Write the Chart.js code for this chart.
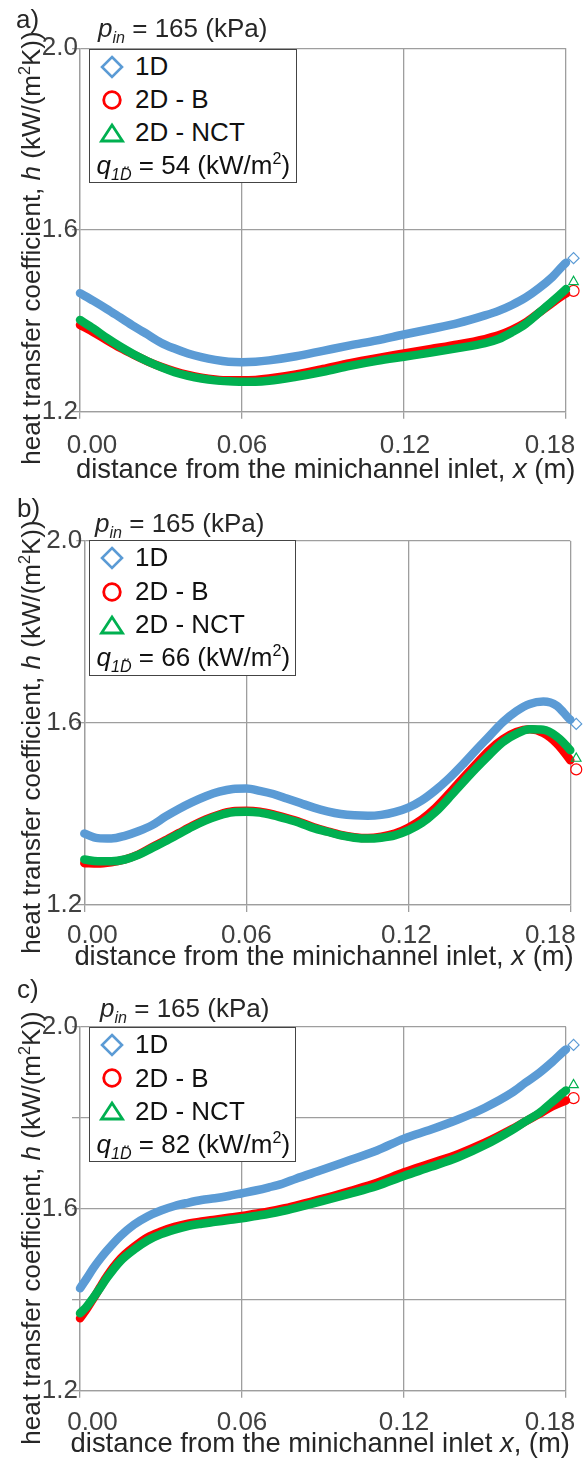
<!DOCTYPE html>
<html>
<head>
<meta charset="utf-8">
<script src="https://cdn.jsdelivr.net/npm/chart.js@4.4.1/dist/chart.umd.min.js"></script>
<style>
html,body{margin:0;padding:0;background:#fff;}
body{width:587px;height:1463px;position:relative;overflow:hidden;font-family:"Liberation Sans",Arial,sans-serif;color:#262626;}
canvas{position:absolute;left:0;}
.t{position:absolute;white-space:nowrap;}
sub,sup{line-height:0;font-size:62%;}
.lg{position:absolute;box-sizing:border-box;border:1.5px solid #444;background:#fff;}
.lg .t{color:#111;}
.yt{position:absolute;white-space:nowrap;transform:translate(-50%,-50%) rotate(-90deg);font-size:26px;line-height:26px;}
svg{position:absolute;overflow:visible;}
</style>
</head>
<body>
<canvas id="ca" width="587" height="487" style="top:0px"></canvas>
<canvas id="cb" width="587" height="488" style="top:487px"></canvas>
<canvas id="cc" width="587" height="488" style="top:975px"></canvas>
<script>
// ---------- data ----------
const X_MIN = 0, X_MAX = 0.18, Y_MIN = 1.2, Y_MAX = 2.0;
const X_TICKS = [0, 0.06, 0.12, 0.18];
const X_TICK_LABELS = ['0.00', '0.06', '0.12', '0.18'];
const Y_LABEL_TICKS = [1.2, 1.6, 2.0];
const Y_GRID_AB = [1.2, 1.6, 2.0];
const Y_GRID_C = [1.2, 1.4, 1.6, 1.8, 2.0];
const SERIES_NAMES = ['1D', '2D - B', '2D - NCT'];
const P_IN = 165;
const Q_1D = [54, 66, 82];

// panel a
const X_A = [0, 0.005, 0.01, 0.015, 0.02, 0.025, 0.03, 0.035, 0.04, 0.045, 0.05, 0.055, 0.06, 0.065, 0.07, 0.08, 0.09, 0.10, 0.11, 0.12, 0.13, 0.14, 0.15, 0.155, 0.16, 0.165, 0.17, 0.175, 0.18, 0.1828];
const H_1D_A = [1.461, 1.444, 1.426, 1.407, 1.388, 1.370, 1.352, 1.339, 1.328, 1.320, 1.314, 1.310, 1.309, 1.310, 1.313, 1.322, 1.334, 1.346, 1.357, 1.370, 1.382, 1.395, 1.412, 1.422, 1.435, 1.451, 1.472, 1.497, 1.528, 1.538];
const H_2DB_A = [1.391, 1.375, 1.357, 1.340, 1.325, 1.311, 1.299, 1.289, 1.281, 1.275, 1.271, 1.269, 1.269, 1.270, 1.273, 1.282, 1.294, 1.307, 1.318, 1.328, 1.338, 1.348, 1.360, 1.368, 1.380, 1.396, 1.418, 1.440, 1.460, 1.466];
const H_2DNCT_A = [1.402, 1.383, 1.362, 1.343, 1.326, 1.311, 1.298, 1.287, 1.279, 1.273, 1.269, 1.267, 1.266, 1.266, 1.268, 1.277, 1.288, 1.301, 1.312, 1.321, 1.330, 1.340, 1.351, 1.360, 1.375, 1.393, 1.418, 1.443, 1.470, 1.486];

// panel b
const X_B = [0, 0.005, 0.01, 0.015, 0.02, 0.025, 0.03, 0.035, 0.04, 0.045, 0.05, 0.055, 0.06, 0.065, 0.07, 0.075, 0.08, 0.085, 0.09, 0.095, 0.10, 0.105, 0.11, 0.115, 0.12, 0.125, 0.13, 0.135, 0.14, 0.145, 0.15, 0.155, 0.16, 0.165, 0.17, 0.175, 0.18, 0.1822];
const H_1D_B = [1.357, 1.347, 1.346, 1.352, 1.362, 1.375, 1.394, 1.411, 1.426, 1.439, 1.449, 1.455, 1.456, 1.451, 1.444, 1.434, 1.424, 1.414, 1.406, 1.400, 1.397, 1.396, 1.398, 1.404, 1.414, 1.430, 1.452, 1.478, 1.508, 1.540, 1.571, 1.602, 1.626, 1.642, 1.647, 1.638, 1.607, 1.598];
const H_2DB_B = [1.292, 1.291, 1.294, 1.300, 1.311, 1.327, 1.342, 1.358, 1.374, 1.388, 1.399, 1.406, 1.407, 1.405, 1.399, 1.391, 1.382, 1.371, 1.362, 1.354, 1.349, 1.347, 1.350, 1.357, 1.370, 1.388, 1.413, 1.444, 1.477, 1.509, 1.540, 1.564, 1.580, 1.586, 1.578, 1.555, 1.518, 1.498];
const H_2DNCT_B = [1.300, 1.296, 1.296, 1.300, 1.310, 1.325, 1.340, 1.356, 1.372, 1.386, 1.397, 1.404, 1.405, 1.403, 1.397, 1.389, 1.380, 1.369, 1.361, 1.353, 1.348, 1.346, 1.348, 1.353, 1.364, 1.380, 1.404, 1.435, 1.468, 1.500, 1.530, 1.558, 1.576, 1.586, 1.585, 1.570, 1.540, 1.522];

// panel c
const X_C = [0, 0.0025, 0.005, 0.0075, 0.01, 0.015, 0.02, 0.025, 0.03, 0.035, 0.04, 0.045, 0.05, 0.055, 0.06, 0.065, 0.07, 0.075, 0.08, 0.09, 0.10, 0.11, 0.12, 0.13, 0.14, 0.15, 0.16, 0.165, 0.17, 0.175, 0.18, 0.1828];
const H_1D_C = [1.425, 1.447, 1.470, 1.490, 1.508, 1.540, 1.565, 1.583, 1.596, 1.606, 1.613, 1.619, 1.623, 1.628, 1.634, 1.640, 1.647, 1.655, 1.666, 1.686, 1.707, 1.728, 1.754, 1.774, 1.796, 1.822, 1.855, 1.877, 1.898, 1.923, 1.950, 1.960];
const H_2DB_C = [1.359, 1.380, 1.403, 1.428, 1.452, 1.490, 1.516, 1.537, 1.550, 1.560, 1.567, 1.572, 1.576, 1.580, 1.584, 1.589, 1.594, 1.600, 1.607, 1.622, 1.639, 1.657, 1.680, 1.700, 1.720, 1.745, 1.775, 1.792, 1.808, 1.825, 1.838, 1.843];
const H_2DNCT_C = [1.370, 1.385, 1.405, 1.426, 1.448, 1.485, 1.510, 1.530, 1.544, 1.554, 1.562, 1.567, 1.571, 1.575, 1.579, 1.584, 1.589, 1.595, 1.602, 1.617, 1.633, 1.650, 1.672, 1.692, 1.713, 1.740, 1.773, 1.792, 1.810, 1.835, 1.860, 1.872];

// ---------- styling / layout ----------
const C_1D = '#5B9BD5', C_B = '#FF0000', C_NCT = '#00B050';
const GRID = '#9E9E9E';
const FONT = '"Liberation Sans", Arial, sans-serif';

const PANELS = [
  {canvas:'ca', letter:'a)', xs:X_A, d1:H_1D_A, b:H_2DB_A, nct:H_2DNCT_A, grid:Y_GRID_AB,
   yw:80, pad:{top:48.3,left:0,right:21,bottom:75.3}, nudge:[12,0,1,-16], base:41.6,
   lab:[16,28], pin:[98,36.7], box:[89,48.5,208,134.5], xt:[76,478.3], yt:[31,247.5],
   xtitle:'distance from the minichannel inlet, <i>x</i> (m)'},
  {canvas:'cb', letter:'b)', xs:X_B, d1:H_1D_B, b:H_2DB_B, nct:H_2DNCT_B, grid:Y_GRID_AB,
   yw:84.3, pad:{top:54,left:0,right:16.7,bottom:70}, nudge:[8,0,-2,-20], base:38.3,
   lab:[17,516.7], pin:[95,531.7], box:[89,540,207,136], xt:[74.4,965], yt:[31,737],
   xtitle:'distance from the minichannel inlet, <i>x</i> (m)'},
  {canvas:'cc', letter:'c)', xs:X_C, d1:H_1D_C, b:H_2DB_C, nct:H_2DNCT_C, grid:Y_GRID_C,
   yw:80, pad:{top:51.7,left:0,right:21,bottom:72.3}, nudge:[12.5,0,0,-16], base:39.3,
   lab:[17,998], pin:[100,1016.7], box:[89,1026.7,207,135], xt:[70.6,1451.7], yt:[31,1228],
   xtitle:'distance from the minichannel inlet <i>x</i>, (m)'}
];

const xLabelsPlugin = {
  id: 'xLabels',
  afterDraw(chart, args, opts) {
    const {ctx, chartArea} = chart;
    const sx = chart.scales.x;
    ctx.save();
    ctx.font = '26px ' + FONT;
    ctx.fillStyle = '#404040';
    ctx.textAlign = 'center';
    ctx.textBaseline = 'alphabetic';
    X_TICKS.forEach((v, i) => {
      ctx.fillText(X_TICK_LABELS[i], sx.getPixelForValue(v) + opts.nudge[i], chartArea.bottom + opts.base);
    });
    ctx.restore();
  }
};

// lets the end-of-series markers that sit just past x = 0.18 be drawn
const markerRoom = {
  id: 'markerRoom',
  beforeDatasetsDraw(chart) { const a = chart.chartArea; a._r = a.right; a.right += 20; },
  afterDatasetsDraw(chart) { const a = chart.chartArea; a.right = a._r; }
};

function dataset(label, xs, ys, color, style, order) {
  const n = xs.length;
  return {
    label,
    data: xs.map((x, i) => ({x, y: ys[i]})),
    borderColor: color,
    borderWidth: 8.5,
    borderCapStyle: 'round',
    borderJoinStyle: 'round',
    cubicInterpolationMode: 'monotone',
    fill: false,
    pointStyle: style,
    pointRadius: c => (c.dataIndex === n - 1 ? 5.5 : 0),
    pointBorderWidth: 1.2,
    pointBorderColor: color,
    pointBackgroundColor: 'rgba(0,0,0,0)',
    segment: { borderColor: c => (c.p1DataIndex === n - 1 ? 'rgba(0,0,0,0)' : color) },
    clip: false,
    order
  };
}

function addText(parent, html, x, baseline, size) {
  const d = document.createElement('div');
  d.className = 't';
  d.style.fontSize = size + 'px';
  d.style.lineHeight = size + 'px';
  d.style.left = x + 'px';
  d.style.top = (baseline - 0.8465 * size) + 'px';
  d.innerHTML = html;
  parent.appendChild(d);
  return d;
}

const MARKERS = [
  '<polygon points="11,1 21,11 11,21 1,11" fill="none" stroke="' + C_1D + '" stroke-width="2.6"/>',
  '<circle cx="11" cy="11" r="8.3" fill="none" stroke="' + C_B + '" stroke-width="2.8"/>',
  '<polygon points="11,3 21.5,19 0.5,19" fill="none" stroke="' + C_NCT + '" stroke-width="2.8"/>'
];

PANELS.forEach((p, k) => {
  new Chart(document.getElementById(p.canvas), {
    type: 'line',
    data: {
      datasets: [
        dataset(SERIES_NAMES[0], p.xs, p.d1, C_1D, 'rectRot', 1),
        dataset(SERIES_NAMES[2], p.xs, p.nct, C_NCT, 'triangle', 2),
        dataset(SERIES_NAMES[1], p.xs, p.b, C_B, 'circle', 3)
      ]
    },
    options: {
      responsive: false,
      animation: false,
      events: [],
      devicePixelRatio: 1,
      layout: { padding: p.pad },
      plugins: {
        legend: { display: false },
        tooltip: { enabled: false },
        xLabels: { nudge: p.nudge, base: p.base }
      },
      scales: {
        x: {
          type: 'linear',
          bounds: 'data',
          afterDataLimits: s => { s.min = X_MIN; s.max = X_MAX; },
          afterBuildTicks: s => { s.ticks = X_TICKS.map(v => ({value: v})); },
          afterFit: s => { s.height = 0; },
          ticks: { display: false },
          grid: { color: GRID, lineWidth: 1.3, tickLength: 7, drawTicks: true },
          border: { color: GRID, width: 1.3 }
        },
        y: {
          type: 'linear',
          min: Y_MIN, max: Y_MAX,
          afterBuildTicks: s => { s.ticks = p.grid.map(v => ({value: v})); },
          afterFit: s => { s.width = p.yw; },
          ticks: {
            autoSkip: false,
            padding: -6,
            color: '#404040',
            font: { family: FONT, size: 26 },
            callback: v => (Y_LABEL_TICKS.some(l => Math.abs(l - v) < 1e-9) ? v.toFixed(1) : '')
          },
          grid: { color: GRID, lineWidth: 1.3, tickLength: 8, drawTicks: true },
          border: { color: GRID, width: 1.3 }
        }
      }
    },
    plugins: [xLabelsPlugin, markerRoom]
  });

  const body = document.body;
  addText(body, p.letter, p.lab[0], p.lab[1], 26);
  addText(body, '<i>p</i><sub><i>in</i></sub> = ' + P_IN + ' (kPa)', p.pin[0], p.pin[1], 26);
  addText(body, p.xtitle, p.xt[0], p.xt[1], 27.4);

  const yt = document.createElement('div');
  yt.className = 'yt';
  yt.style.left = p.yt[0] + 'px';
  yt.style.top = p.yt[1] + 'px';
  yt.innerHTML = 'heat transfer coefficient, <i>h</i> (kW/(m<sup>2</sup>K))';
  body.appendChild(yt);

  const box = document.createElement('div');
  box.className = 'lg';
  box.style.left = p.box[0] + 'px';
  box.style.top = p.box[1] + 'px';
  box.style.width = p.box[2] + 'px';
  box.style.height = p.box[3] + 'px';
  body.appendChild(box);
  const bases = [25.5, 59, 92, 125];
  SERIES_NAMES.forEach((name, i) => {
    const svg = document.createElementNS('http://www.w3.org/2000/svg', 'svg');
    svg.setAttribute('width', 22); svg.setAttribute('height', 22);
    svg.style.left = (22 - 11) + 'px';
    svg.style.top = (bases[i] - 8.5 - 11) + 'px';
    svg.innerHTML = MARKERS[i];
    box.appendChild(svg);
    addText(box, name, 45, bases[i], 26);
  });
  addText(box, '<i>q</i><sub><i>1D&#776;</i></sub> = ' + Q_1D[k] + ' (kW/m<sup>2</sup>)', 6.5, bases[3], 26);
});
</script>
</body>
</html>
